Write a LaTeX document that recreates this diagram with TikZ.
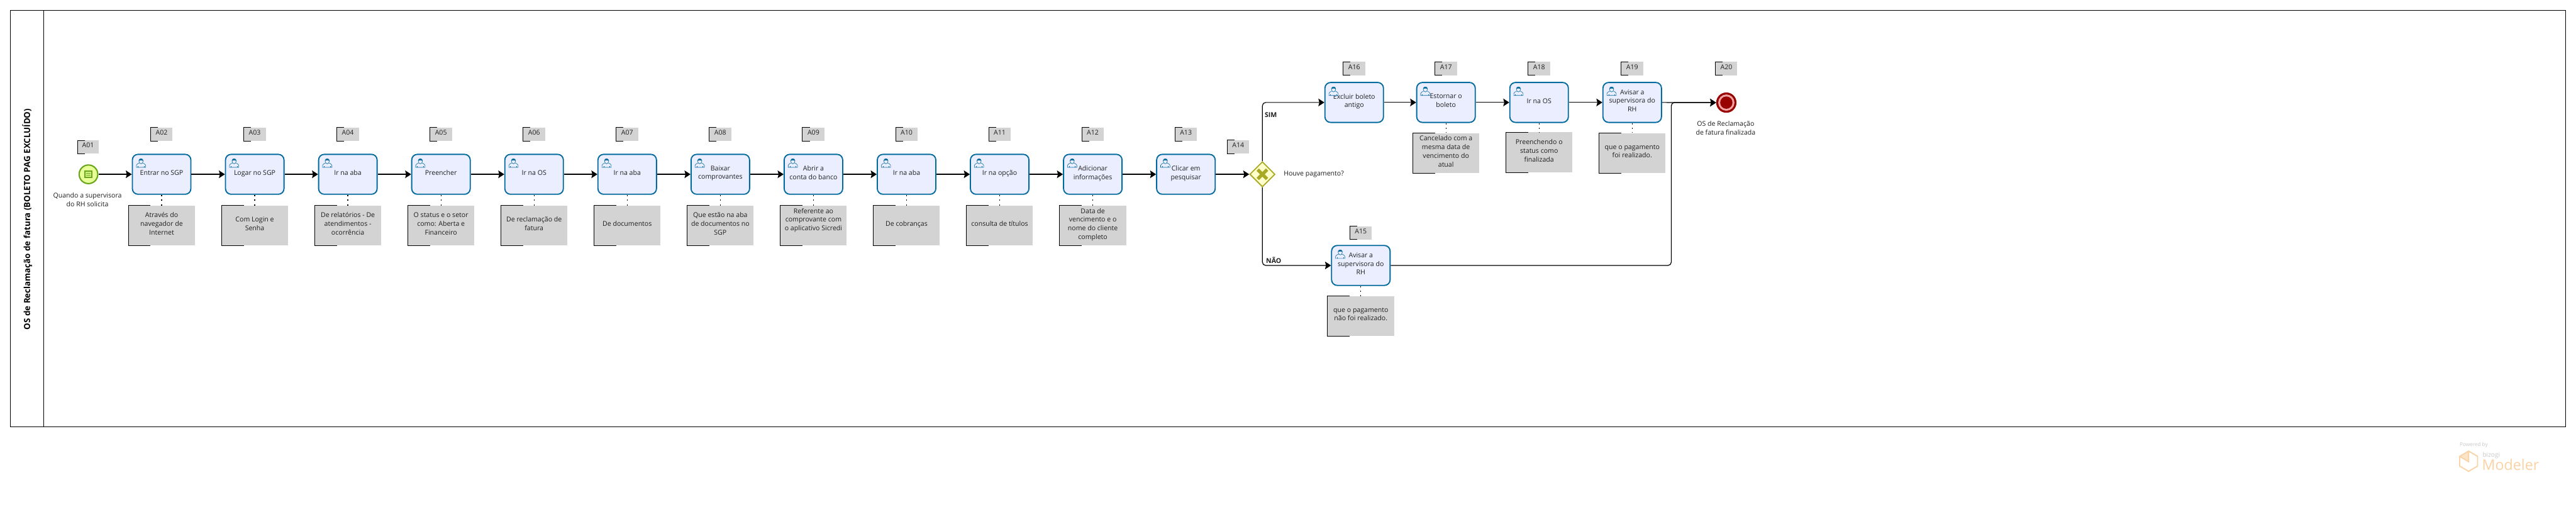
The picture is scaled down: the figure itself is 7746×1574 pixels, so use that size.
\documentclass[tikz,border=0pt]{standalone}
\usepackage{fontspec}
\setmainfont{Open Sans}
\usetikzlibrary{arrows.meta,shapes.geometric}
\definecolor{taskblue}{HTML}{00699D}
\definecolor{taskfill}{HTML}{EBEEFF}
\definecolor{notegray}{HTML}{D3D3D3}
\definecolor{txt}{HTML}{1E1E1E}
\definecolor{gwline}{HTML}{A9A926}
\definecolor{gwfill}{HTML}{FFFFCC}
\definecolor{startline}{HTML}{6BA51C}
\definecolor{startfill}{HTML}{E6FF97}
\definecolor{endred}{HTML}{990000}
\definecolor{endring}{HTML}{EFA3A3}
\definecolor{logoorange}{HTML}{FAD2A5}
\definecolor{logogray}{HTML}{C9C9C9}
\newcommand{\tstrut}{\rule[-10.8pt]{0pt}{26pt}}
\tikzset{
  basetext/.style={font=\fontsize{20}{26}\selectfont, text=txt, align=center,
    execute at begin node=\tstrut, execute at end node=\tstrut, inner sep=0pt},
  taskbox/.style={basetext, draw=taskblue, fill=taskfill, line width=3.5pt, rounded corners=17pt,
    minimum width=176pt, minimum height=120pt},
  notebox/.style={basetext, fill=notegray, minimum width=200pt, minimum height=120pt},
  lblbox/.style={basetext, fill=notegray, minimum width=66pt, minimum height=40pt},
  free/.style={basetext},
  flow/.style={draw=black, line width=2.3pt, -{Stealth[length=18pt,width=23pt,inset=3pt]}},
  assoc/.style={draw=black, line width=2.4pt, dash pattern=on 4pt off 10pt},
  brk/.style={draw=black, line width=1.6pt},
  iconline/.style={draw=taskblue, line width=1.1pt, fill=taskfill},
}
\newcommand{\tasknode}[4]{%
  \node[taskbox] (#1) at (#2,#3) {#4};
  \begin{scope}[shift={(#2-90,#3-62)}]
    \draw[iconline] (14,41) -- (14,35) .. controls (14,31) and (19,31) .. (22,28)
      -- (34,28) .. controls (37,31) and (42,31) .. (42,35) -- (42,41) -- cycle;
    \draw[iconline] (21.5,21.5) .. controls (21.5,13) and (34.5,13) .. (34.5,21.5)
      .. controls (34.5,26) and (31,30.5) .. (28,30.5) .. controls (25,30.5) and (21.5,26) .. (21.5,21.5) -- cycle;
    \fill[taskblue] (21.5,21.5) .. controls (21.5,13) and (34.5,13) .. (34.5,21.5)
      .. controls (31,19) and (25,19) .. (21.5,21.5) -- cycle;
    \draw[taskblue, line width=1pt] (19,41) -- (19,37) (37,41) -- (37,37);
  \end{scope}}
\newcommand{\notenode}[4]{%
  \node[notebox] (#1) at (#2,#3) {#4};
  \draw[brk] ([xshift=67pt]#1.north west) -- (#1.north west) -- (#1.south west) -- ([xshift=67pt]#1.south west);}
\newcommand{\lblnode}[4]{%
  \node[lblbox] (#1) at (#2,#3) {#4};
  \draw[brk] ([xshift=22pt]#1.north west) -- (#1.north west) -- (#1.south west) -- ([xshift=22pt]#1.south west);}
\begin{document}
\begin{tikzpicture}[x=1pt,y=-1pt]
\useasboundingbox (0,0) rectangle (7746,1574);
\fill[white] (0,0) rectangle (7746,1574);
% pool and lane
\draw[line width=2pt] (32,32) rectangle (7714,1283);
\draw[line width=2pt] (132,32) -- (132,1283);
\node[rotate=90, inner sep=0pt, font=\fontsize{25.2}{30}\selectfont\bfseries, text=black] (title) at (82,659)
  {OS de Reclamação de fatura (BOLETO PAG EXCLUÍDO)};
% start
\node[circle, draw=startline, fill=startfill, line width=4pt, minimum size=56pt, inner sep=0pt] (start) at (266,524) {};
\node[draw=startline, fill=startfill!85!startline, line width=3.5pt, minimum width=20pt, minimum height=20pt, inner sep=0pt] (starticon) at (266,524) {};
\draw[startline, line width=1.6pt] (260,521) -- (272,521) (260,527) -- (272,527);
\node[free] (startlbl) at (263,606) {Quando a supervisora\\do RH solicita};
\node[lblbox, minimum width=62pt] (l01) at (265,442) {A01};
\draw[brk] ([xshift=22pt]l01.north west) -- (l01.north west) -- (l01.south west) -- ([xshift=22pt]l01.south west);
% tasks
\tasknode{a02}{486}{524}{Entrar no SGP}
\tasknode{a03}{766}{524}{Logar no SGP}
\tasknode{a04}{1046}{524}{Ir na aba}
\tasknode{a05}{1326}{524}{Preencher}
\tasknode{a06}{1606}{524}{Ir na OS}
\tasknode{a07}{1886}{524}{Ir na aba}
\tasknode{a08}{2166}{524}{Baixar\\comprovantes}
\tasknode{a09}{2446}{524}{Abrir a\\conta do banco}
\tasknode{a10}{2726}{524}{Ir na aba}
\tasknode{a11}{3006}{524}{Ir na opção}
\tasknode{a12}{3286}{524}{Adicionar\\informações}
\tasknode{a13}{3566}{524}{Clicar em\\pesquisar}
\tasknode{a16}{4072}{308}{Excluir boleto\\antigo}
\tasknode{a17}{4348}{308}{Estornar o\\boleto}
\tasknode{a18}{4628}{308}{Ir na OS}
\tasknode{a19}{4908}{308}{Avisar a\\supervisora do\\RH}
\tasknode{a15}{4092}{798}{Avisar a\\supervisora do\\RH}
% labels
\lblnode{l02}{486}{403.5}{A02}
\lblnode{l03}{766}{403.5}{A03}
\lblnode{l04}{1046}{403.5}{A04}
\lblnode{l05}{1326}{403.5}{A05}
\lblnode{l06}{1606}{403.5}{A06}
\lblnode{l07}{1886}{403.5}{A07}
\lblnode{l08}{2166}{403.5}{A08}
\lblnode{l09}{2446}{403.5}{A09}
\lblnode{l10}{2726}{403.5}{A10}
\lblnode{l11}{3006}{403.5}{A11}
\lblnode{l12}{3286}{403.5}{A12}
\lblnode{l13}{3566}{403.5}{A13}
\lblnode{l14}{3723}{441.5}{A14}
\lblnode{l15}{4092}{700}{A15}
\lblnode{l16}{4072}{206}{A16}
\lblnode{l17}{4348}{206}{A17}
\lblnode{l18}{4628}{206}{A18}
\lblnode{l19}{4908}{206}{A19}
\lblnode{l20}{5191}{206}{A20}
% notes
\notenode{n02}{486}{678}{Através do\\navegador de\\Internet}
\notenode{n03}{766}{678}{Com Login e\\Senha}
\notenode{n04}{1046}{678}{De relatórios - De\\atendimentos -\\ocorrência}
\notenode{n05}{1326}{678}{O status e o setor\\como: Aberta e\\Financeiro}
\notenode{n06}{1606}{678}{De reclamação de\\fatura}
\notenode{n07}{1886}{678}{De documentos}
\notenode{n08}{2166}{678}{Que estão na aba\\de documentos no\\SGP}
\notenode{n09}{2446}{678}{Referente ao\\comprovante com\\o aplicativo Sicredi\\ \mbox{}}
\notenode{n10}{2726}{678}{De cobranças}
\notenode{n11}{3006}{678}{consulta de títulos}
\notenode{n12}{3286}{678}{Data de\\vencimento e o\\nome do cliente\\completo}
\notenode{n15}{4092}{950}{que o pagamento\\não foi realizado.}
\notenode{n17}{4348}{460}{Cancelado com a\\mesma data de\\vencimento do\\atual}
\notenode{n18}{4628}{458}{Preenchendo o\\status como\\finalizada}
\notenode{n19}{4908}{460}{que o pagamento\\foi realizado.}
% gateway
\node[diamond, draw=gwline, fill=gwfill, line width=3.5pt, minimum width=76pt, minimum height=76pt, inner sep=0pt] (gw) at (3796,524) {};
\draw[gwline, line width=10pt] ([shift={(-14,-14)}]gw.center) -- ([shift={(14,14)}]gw.center);
\draw[gwline, line width=10pt] ([shift={(14,-14)}]gw.center) -- ([shift={(-14,14)}]gw.center);
\node[free, anchor=west] (gwlbl) at (3860,527) {Houve pagamento?};
% end
\node[circle, fill=endred, minimum size=61pt, inner sep=0pt] (end) at (5191,308.5) {};
\node[circle, fill=endring, minimum size=49pt, inner sep=0pt] (endring) at (5191,308.5) {};
\node[circle, fill=endred, minimum size=37pt, inner sep=0pt] (endcore) at (5191,308.5) {};
\node[free] (endlbl) at (5189,390) {OS de Reclamação\\de fatura finalizada};
% flows
\draw[flow] (start) -- (a02);
\draw[flow] (a02) -- (a03);
\draw[flow] (a03) -- (a04);
\draw[flow] (a04) -- (a05);
\draw[flow] (a05) -- (a06);
\draw[flow] (a06) -- (a07);
\draw[flow] (a07) -- (a08);
\draw[flow] (a08) -- (a09);
\draw[flow] (a09) -- (a10);
\draw[flow] (a10) -- (a11);
\draw[flow] (a11) -- (a12);
\draw[flow] (a12) -- (a13);
\draw[flow] (a13) -- (gw);
\draw[flow, rounded corners=10pt] (gw.north) |- (a16.west);
\draw[flow, rounded corners=10pt] (gw.south) |- (a15.west);
\draw[flow] (a16) -- (a17);
\draw[flow] (a17) -- (a18);
\draw[flow] (a18) -- (a19);
\draw[flow] (a19.east) -- (end.west);
\coordinate (merge) at (5025.5,308);
\draw[flow, rounded corners=10pt] (a15.east) -| (merge) -- (end.west);
\node[font=\fontsize{20}{26}\selectfont\bfseries, text=txt, anchor=west, inner sep=0pt] (sim) at (3803,345) {SIM};
\node[font=\fontsize{20}{26}\selectfont\bfseries, text=txt, anchor=west, inner sep=0pt] (nao) at (3807,782) {NÃO};
% associations
\foreach \t/\n in {a02/n02,a03/n03,a04/n04,a05/n05,a06/n06,a07/n07,a08/n08,a09/n09,a10/n10,a11/n11,a12/n12,a15/n15,a17/n17,a18/n18,a19/n19}
  \draw[assoc] (\t.south) -- (\n.north);
% logo
\node[font=\fontsize{15.5}{18}\selectfont, text=logogray, anchor=west, inner sep=0pt] (pow) at (7396,1338) {Powered by};
\fill[logoorange!60] (7423,1358) -- (7423,1388) -- (7397,1372) -- cycle;
\draw[logoorange, line width=3.5pt, line join=miter] (7423,1356) -- (7450,1372) -- (7450,1401) -- (7423,1417) -- (7396,1401) -- (7396,1372) -- cycle;
\draw[logoorange, line width=3.5pt] (7423,1356) -- (7423,1388) -- (7396,1372);
\node[font=\fontsize{19}{22}\selectfont, text=logogray, anchor=west, inner sep=0pt] (biz) at (7465,1368) {bizogi};
\node[font=\fontsize{44}{50}\selectfont, text=logoorange, anchor=base west, inner sep=0pt] (modeler) at (7463,1413) {Modeler};
\end{tikzpicture}
\end{document}
